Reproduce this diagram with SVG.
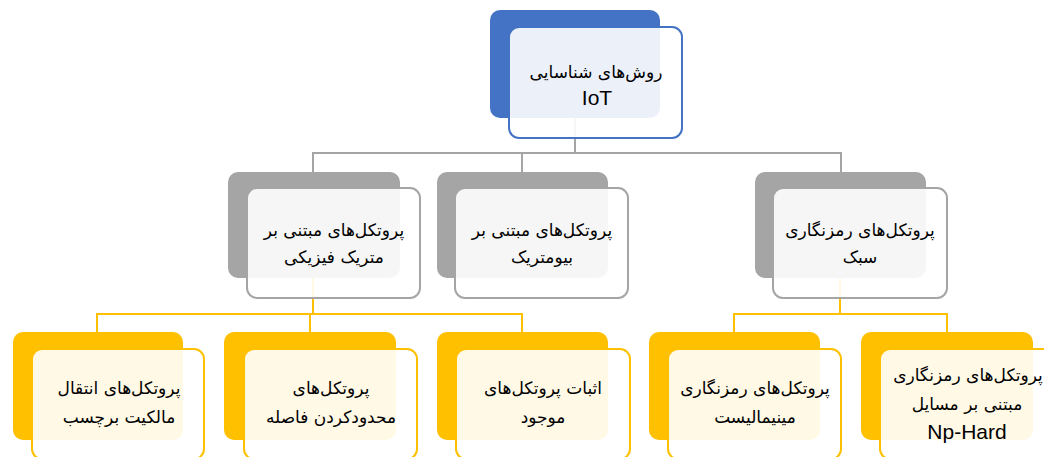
<svg xmlns="http://www.w3.org/2000/svg" width="1044" height="457" viewBox="0 0 1044 457">
<style>
.bk{stroke:none}
.fr{fill:#fff;fill-opacity:0.9;stroke-width:2}
.blue .bk{fill:#4472C4}.blue .fr{stroke:#4472C4}
.gray .bk{fill:#A5A5A5}.gray .fr{stroke:#A5A5A5}
.yel .bk{fill:#FFC000}.yel .fr{stroke:#FFC000}
text{font-family:"DejaVu Sans","Noto Sans",sans-serif;font-size:17px;fill:#000;text-anchor:middle}
.lat{font-family:"Liberation Sans","Noto Sans",sans-serif;font-size:21px}
.cg{fill:none;stroke:#A5A5A5;stroke-width:2}
.cy{fill:none;stroke:#FFC000;stroke-width:2}
</style>
<rect width="1044" height="457" fill="#fff"/>
<g id="connectors">
<path class="cg" d="M575 118V153M313 153H841M313 152V172M522 152V172M841 152V172"/>
<path class="cy" d="M313 278V314M97 314H523M97 313V332M310 313V332M522 313V332"/>
<path class="cy" d="M840 278V314M734 314H948M734 313V332M947 313V332"/>
</g>
<g id="root" class="blue">
<rect class="bk" x="490" y="10" width="170" height="108" rx="10"/>
<rect class="fr" x="509" y="27" width="173" height="111" rx="10"/>
<text x="596" y="78">روش‌های شناسایی</text>
<text class="lat" x="597" y="105">IoT</text>
</g>
<g id="physical" class="gray">
<rect class="bk" x="228" y="172" width="172" height="106" rx="10"/>
<rect class="fr" x="247" y="188" width="173" height="110" rx="10"/>
<text x="334" y="236">پروتکل‌های مبتنی بر</text>
<text x="334" y="263">متریک فیزیکی</text>
</g>
<g id="biometric" class="gray">
<rect class="bk" x="437" y="172" width="171" height="106" rx="10"/>
<rect class="fr" x="455" y="188" width="173" height="110" rx="10"/>
<text x="542" y="236">پروتکل‌های مبتنی بر</text>
<text x="542" y="263">بیومتریک</text>
</g>
<g id="lightcrypto" class="gray">
<rect class="bk" x="755" y="172" width="171" height="106" rx="10"/>
<rect class="fr" x="773" y="188" width="174" height="110" rx="10"/>
<text x="860" y="236">پروتکل‌های رمزنگاری</text>
<text x="860" y="263">سبک</text>
</g>
<g id="ownership" class="yel">
<rect class="bk" x="13" y="332" width="170" height="108" rx="10"/>
<rect class="fr" x="32" y="349" width="172" height="110" rx="10"/>
<text x="119" y="394">پروتکل‌های انتقال</text>
<text x="119" y="423">مالکیت برچسب</text>
</g>
<g id="distance" class="yel">
<rect class="bk" x="224" y="332" width="172" height="108" rx="10"/>
<rect class="fr" x="244" y="349" width="173" height="110" rx="10"/>
<text x="331" y="394">پروتکل‌های</text>
<text x="331" y="423">محدودکردن فاصله</text>
</g>
<g id="existing" class="yel">
<rect class="bk" x="437" y="332" width="171" height="108" rx="10"/>
<rect class="fr" x="456" y="349" width="174" height="110" rx="10"/>
<text x="543" y="394">اثبات پروتکل‌های</text>
<text x="543" y="423">موجود</text>
</g>
<g id="minimalist" class="yel">
<rect class="bk" x="649" y="332" width="171" height="108" rx="10"/>
<rect class="fr" x="668" y="349" width="173" height="110" rx="10"/>
<text x="755" y="394">پروتکل‌های رمزنگاری</text>
<text x="755" y="423">مینیمالیست</text>
</g>
<g id="nphard" class="yel">
<rect class="bk" x="861" y="332" width="172" height="108" rx="10"/>
<rect class="fr" x="880" y="349" width="174" height="110" rx="10"/>
<text x="968" y="381">پروتکل‌های رمزنگاری</text>
<text x="967" y="410">مبتنی بر مسایل</text>
<text class="lat" x="967" y="439">Np-Hard</text>
</g>
</svg>
